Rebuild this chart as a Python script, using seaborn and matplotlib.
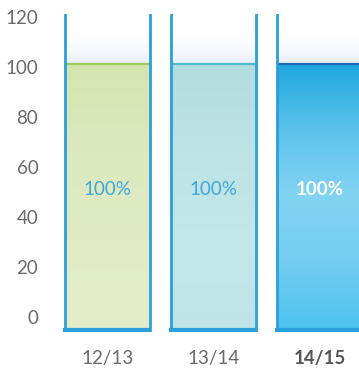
import numpy as np
import pandas as pd
import matplotlib
matplotlib.use("Agg")
import matplotlib.pyplot as plt
import seaborn as sns
from matplotlib.colors import to_rgb

# Data
seasons = ["12/13", "13/14", "14/15"]
shares = [100, 100, 100]
y_ticks = [0, 20, 40, 60, 80, 100, 120]

# Styling per beaker: liquid gradient stops (top -> bottom), surface colour, label colour
liquid_stops = [
    ["#d5e5b0", "#dbe9bd", "#e0ebc6", "#e2ecc9"],
    ["#b2dddf", "#bde3e5", "#c4e7e9", "#bfe4e7"],
    ["#1ea6de", "#5cc3ec", "#83d3f2", "#74cdf0", "#4dc4ef"],
]
surface_colors = ["#8dc63f", "#2db7c1", "#1d5ca9"]
label_colors = ["#3ea6dd", "#3ea6dd", "#ffffff"]
label_weights = ["normal", "normal", "bold"]
glass_color = "#2a9fd9"

sns.set_theme(style="white")
plt.rcParams["font.family"] = ["Lato", "DejaVu Sans"]

fig = plt.figure(figsize=(3.59, 3.70), dpi=100)
ax = fig.add_axes([55 / 359, 38 / 370, 304 / 359, 318 / 370])

df = pd.DataFrame({"season": seasons, "share": shares})
sns.barplot(data=df, x="season", y="share", ax=ax, width=0.81,
            color="#cccccc", saturation=1, zorder=1)

y_bottom, y_top = -6.0, 121.2
ax.set_ylim(y_bottom, y_top)
ax.set_xlim(-0.495, 2.373)

def ramp(stops, n=256):
    cols = np.array([to_rgb(c) for c in stops])
    t = np.linspace(0, 1, len(stops))
    s = np.linspace(0, 1, n)
    return np.stack([np.interp(s, t, cols[:, k]) for k in range(3)], axis=1)

fill_floor = -4.3
meniscus = 1.4
for i, patch in enumerate(ax.patches):
    x0 = patch.get_x()
    w = patch.get_width()
    x1 = x0 + w
    v = patch.get_height()
    patch.set_visible(False)
    level = v + meniscus

    # liquid body
    img = ramp(liquid_stops[i])[:, None, :]
    ax.imshow(img, extent=[x0, x1, fill_floor, level], aspect="auto",
              origin="upper", interpolation="bilinear", zorder=2)

    # faint haze above the liquid
    haze = np.zeros((64, 1, 4))
    haze[:, 0, :3] = to_rgb("#e6eef8")
    haze[:, 0, 3] = 0.9 * np.linspace(0, 1, 64) ** 2
    ax.imshow(haze, extent=[x0, x1, level, level + 14], aspect="auto",
              origin="upper", interpolation="bilinear", zorder=2)

    # liquid surface
    ax.plot([x0, x1], [level - 0.3, level - 0.3], color=surface_colors[i],
            lw=1.6, alpha=0.8, solid_capstyle="butt", zorder=3)

    # glass walls and base
    ax.plot([x0, x0], [y_bottom + 0.6, y_top], color=glass_color, lw=2.0, zorder=4)
    ax.plot([x1, x1], [y_bottom + 0.6, y_top], color=glass_color, lw=2.0, zorder=4)
    ax.plot([x0 - 0.01, x1 + 0.01], [-5.0, -5.0], color=glass_color, lw=3.0,
            solid_capstyle="butt", zorder=4)

    # value label
    ax.text(x0 + w / 2, shares[i] / 2 + 1, f"{shares[i]}%", ha="center",
            va="center", color=label_colors[i], fontsize=13.5,
            fontweight=label_weights[i], zorder=5)

ax.set_yticks(y_ticks)
ax.set_yticklabels([str(t) for t in y_ticks])
ax.set_xlabel("")
ax.set_ylabel("")
ax.tick_params(axis="y", length=0, pad=12, labelsize=13.5, labelcolor="#6b6b6b")
ax.tick_params(axis="x", length=0, pad=13, labelsize=13.5, labelcolor="#6b6b6b")
for k, lab in enumerate(ax.get_xticklabels()):
    if k == len(seasons) - 1:
        lab.set_fontweight("bold")
        lab.set_color("#555555")
for s in ax.spines.values():
    s.set_visible(False)
ax.set_facecolor("white")

fig.savefig("out.png", dpi=100, facecolor="white")
